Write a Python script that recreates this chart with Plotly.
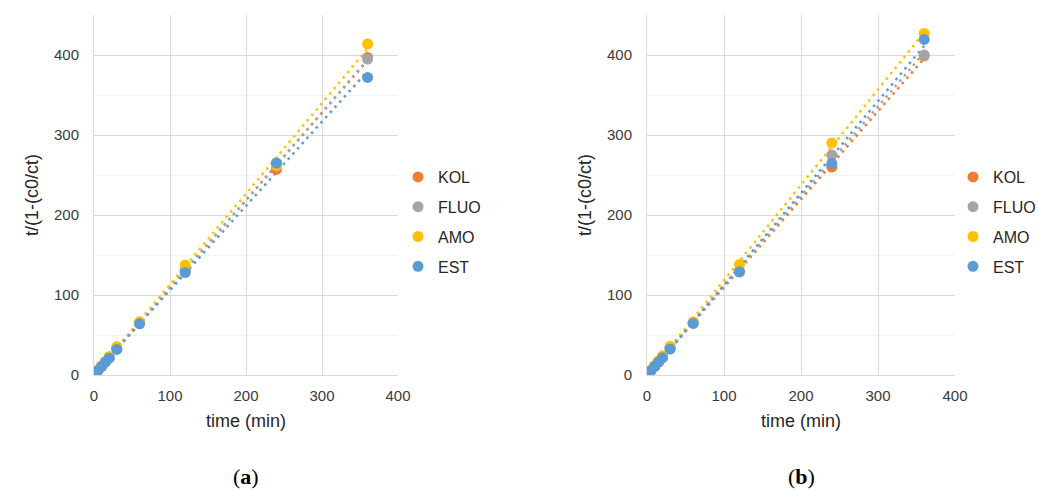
import numpy as np
import plotly.graph_objects as go

# ---- data ----
time_min = [2, 5, 10, 15, 20, 30, 60, 120, 240, 360]
series_names = ["KOL", "FLUO", "AMO", "EST"]

KOL_a = [2.2, 5.5, 11.0, 16.5, 22.0, 33.0, 65.0, 130.0, 257.0, 397.0]
FLUO_a = [2.2, 5.5, 11.0, 16.5, 22.0, 33.5, 65.0, 131.0, 261.0, 395.0]
AMO_a = [2.3, 6.0, 11.5, 17.0, 23.0, 35.5, 66.5, 137.5, 262.0, 414.0]
EST_a = [2.1, 5.3, 10.5, 16.0, 21.0, 32.0, 64.0, 128.0, 265.0, 372.0]

KOL_b = [2.2, 5.5, 11.0, 16.5, 22.0, 33.0, 65.0, 129.0, 260.0, 399.0]
FLUO_b = [2.2, 5.5, 11.0, 16.5, 22.0, 33.5, 65.5, 130.0, 275.0, 400.0]
AMO_b = [2.4, 6.0, 12.0, 17.5, 24.0, 36.0, 66.5, 138.0, 290.0, 427.0]
EST_b = [2.1, 5.3, 10.5, 16.0, 21.5, 32.5, 64.5, 129.0, 264.5, 419.5]

x_ticks = [0, 100, 200, 300, 400]
y_ticks = [0, 100, 200, 300, 400]
x_title = "time (min)"
y_title = "t/(1-(c0/ct)"
captions = ["(<b>a</b>)", "(<b>b</b>)"]

colors = {"KOL": "#ED7D31", "FLUO": "#A5A5A5", "AMO": "#FFC000", "EST": "#5B9BD5"}

panels = [
    {"data": {"KOL": KOL_a, "FLUO": FLUO_a, "AMO": AMO_a, "EST": EST_a}, "xa": "x", "ya": "y", "legend": "legend"},
    {"data": {"KOL": KOL_b, "FLUO": FLUO_b, "AMO": AMO_b, "EST": EST_b}, "xa": "x2", "ya": "y2", "legend": "legend2"},
]

fig = go.Figure()
t = np.array(time_min, dtype=float)
for p in panels:
    # trendlines first
    for name in series_names:
        y = np.array(p["data"][name], dtype=float)
        k, b = np.polyfit(t, y, 1)
        xl = np.array([t.min(), t.max()])
        fig.add_trace(go.Scatter(
            x=xl, y=k * xl + b, mode="lines", xaxis=p["xa"], yaxis=p["ya"],
            line=dict(color=colors[name], width=2.5, dash="2.5px,4.5px"),
            showlegend=False, hoverinfo="skip", legend=p["legend"]))
    for name in series_names:
        fig.add_trace(go.Scatter(
            x=time_min, y=p["data"][name], mode="markers", name=name,
            xaxis=p["xa"], yaxis=p["ya"], legend=p["legend"], legendgroup=name,
            marker=dict(color=colors[name], size=11, line=dict(width=0))))

W, H = 1038, 491
def px_x(v): return v / W
def px_y(v): return 1 - v / H

axis_font = dict(family="Liberation Sans, Arial, sans-serif", size=15, color="#3a3a3a")
title_font = dict(family="Liberation Sans, Arial, sans-serif", size=18, color="#262626")
common_x = dict(range=[0, 400], tickvals=x_ticks, showgrid=True, gridcolor="#D9D9D9", gridwidth=1,
                zeroline=False, showline=True, linecolor="#D9D9D9", linewidth=1, ticks="",
                tickfont=axis_font, ticklabelstandoff=7, automargin=False,
                title=dict(text=x_title, font=title_font, standoff=11))
common_y = dict(range=[0, 450], tickvals=y_ticks, showgrid=True, gridcolor="#D9D9D9", gridwidth=1,
                zeroline=False, showline=True, linecolor="#D9D9D9", linewidth=1, ticks="",
                minor=dict(dtick=50, showgrid=True, gridcolor="#F2F2F2", gridwidth=1),
                tickfont=axis_font, ticklabelstandoff=11, automargin=False,
                title=dict(text=y_title, font=title_font, standoff=10))

legend_common = dict(font=dict(family="Liberation Sans, Arial, sans-serif", size=16, color="#262626"),
                     bgcolor="rgba(0,0,0,0)", borderwidth=0, itemwidth=30, tracegroupgap=6,
                     traceorder="grouped", xanchor="left", yanchor="middle", itemclick=False, itemdoubleclick=False)

fig.update_layout(
    width=W, height=H, margin=dict(l=0, r=0, t=0, b=0, autoexpand=False),
    paper_bgcolor="white", plot_bgcolor="white",
    xaxis=dict(domain=[px_x(94), px_x(398)], anchor="y", **common_x),
    yaxis=dict(domain=[px_y(375), px_y(15)], anchor="x", **common_y),
    xaxis2=dict(domain=[px_x(647), px_x(955)], anchor="y2", **common_x),
    yaxis2=dict(domain=[px_y(375), px_y(15)], anchor="x2", **common_y),
    legend=dict(x=px_x(398), y=px_y(222), **legend_common),
    legend2=dict(x=px_x(953), y=px_y(222), **legend_common),
    annotations=[
        dict(text=captions[0], x=px_x(246), y=0, xref="paper", yref="paper", showarrow=False,
             xanchor="center", yanchor="bottom",
             font=dict(family="Liberation Serif, serif", size=22, color="black")),
        dict(text=captions[1], x=px_x(801), y=0, xref="paper", yref="paper", showarrow=False,
             xanchor="center", yanchor="bottom",
             font=dict(family="Liberation Serif, serif", size=22, color="black")),
    ],
)

fig.write_html("out.html")
